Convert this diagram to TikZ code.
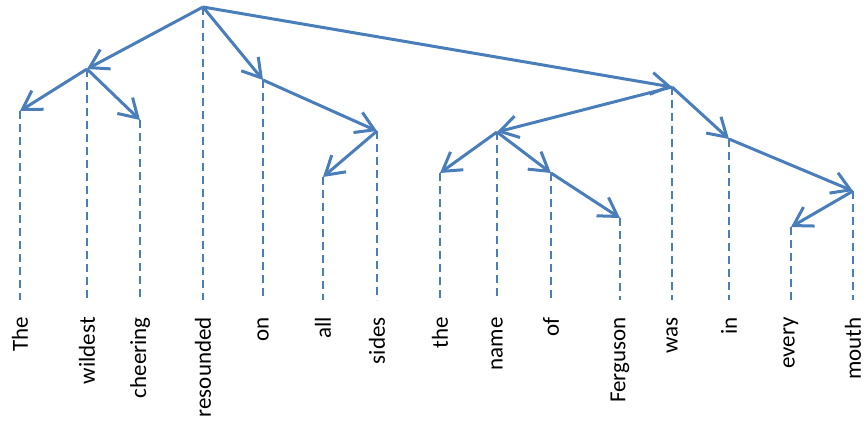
\documentclass[tikz,border=0pt]{standalone}
\usepackage{fontspec}
\setmainfont{Carlito}
\usetikzlibrary{arrows.meta}
\definecolor{linkblue}{HTML}{4A7EBB}
\begin{document}
\begin{tikzpicture}[x=1pt,y=-1pt,
  guide/.style={linkblue, line width=2.4pt, dash pattern=on 8pt off 5pt},
  dep/.style={linkblue, line width=3pt, -{Straight Barb[length=18pt,width=22pt,line width=3pt]}},
  word/.style={rotate=90, anchor=east, inner sep=0pt, font=\fontsize{23}{23}\selectfont}]
\useasboundingbox (0,0) rectangle (868,424);

% word heads: x position and height of each attachment point
\foreach \n/\x/\y/\t in {w1/20/111/The, w2/87/69/wildest, w3/140/120/cheering,
    w4/203/7/resounded, w5/263/80/on, w6/323/177/all, w7/377/131/sides,
    w8/440/173/the, w9/497/132/name, w10/551/173/of, w11/620/218/Ferguson,
    w12/672/87/was, w13/729/139/in, w14/791/227/every, w15/853/191/mouth}{
  \coordinate (\n) at (\x,\y);
  \coordinate (\n b) at (\x,300);
  \node[word] (\n t) at (\x,317) {\t};
  \draw[guide] (\n) -- (\n b);
}

% dependency links, head to dependent
\draw[dep] (w4) -- (w2);
\draw[dep] (w4) -- (w5);
\draw[dep] (w4) -- (w12);
\draw[dep] (w2) -- (w1);
\draw[dep] (w2) -- (w3);
\draw[dep] (w5) -- (w7);
\draw[dep] (w7) -- (w6);
\draw[dep] (w12) -- (w9);
\draw[dep] (w12) -- (w13);
\draw[dep] (w9) -- (w8);
\draw[dep] (w9) -- (w10);
\draw[dep] (w10) -- (w11);
\draw[dep] (w13) -- (w15);
\draw[dep] (w15) -- (w14);
\end{tikzpicture}
\end{document}
